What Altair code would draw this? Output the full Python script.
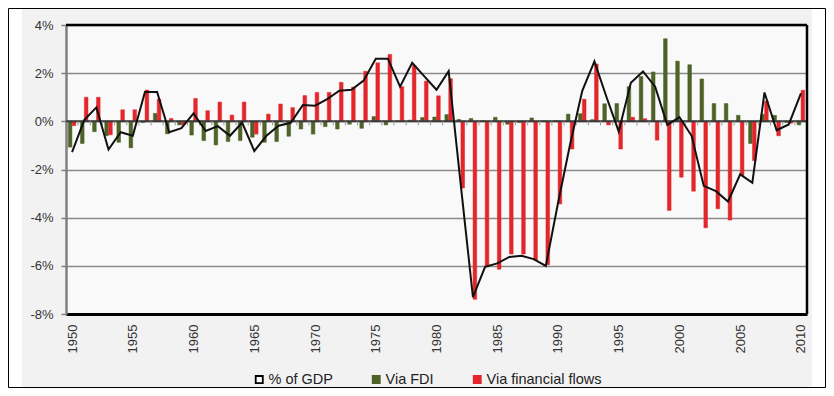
import altair as alt
import pandas as pd

years = list(range(1950, 2011))

pct_gdp = [-1.28, 0.05, 0.58, -1.17, -0.45, -0.6, 1.22, 1.22, -0.45, -0.28,
           0.33, -0.4, -0.2, -0.6, -0.05, -1.23, -0.6, -0.18, -0.06, 0.68,
           0.65, 0.92, 1.27, 1.31, 1.69, 2.6, 2.6, 1.44, 2.43, 1.87,
           1.31, 2.08, -2.65, -7.3, -6.04, -5.9, -5.63, -5.58, -5.72, -6.0,
           -3.4, -0.95, 1.27, 2.49, 1.0, -0.42, 1.6, 2.07, 1.44, -0.15,
           0.17, -0.6, -2.68, -2.9, -3.33, -2.2, -2.55, 1.2, -0.37, -0.13,
           1.16]

via_fdi = [-1.07, -0.92, -0.43, -0.6, -0.87, -1.1, -0.05, 0.33, -0.52, -0.15,
           -0.57, -0.8, -0.98, -0.84, -0.8, -0.66, -0.87, -0.84, -0.62, -0.32,
           -0.53, -0.22, -0.32, -0.12, -0.29, 0.2, -0.15, 0.02, 0.05, 0.16,
           0.18, 0.28, 0.08, 0.12, 0.02, 0.17, -0.12, -0.05, 0.14, 0.02,
           0.03, 0.3, 0.32, 0.07, 0.73, 0.74, 1.44, 1.86, 2.05, 3.43,
           2.5, 2.35, 1.76, 0.74, 0.74, 0.25, -0.92, 0.29, 0.25, -0.05,
           -0.15]

via_fin = [-0.18, 1.0, 1.0, -0.56, 0.48, 0.48, 1.3, 0.92, 0.12, -0.15,
           0.95, 0.44, 0.8, 0.26, 0.8, -0.53, 0.3, 0.72, 0.57, 1.07,
           1.2, 1.2, 1.62, 1.42, 2.08, 2.43, 2.78, 1.44, 2.32, 1.67,
           1.06, 1.77, -2.77, -7.39, -6.04, -6.14, -5.51, -5.51, -5.76, -5.96,
           -3.43, -1.15, 0.92, 2.38, -0.15, -1.15, 0.17, 0.11, -0.78, -3.7,
           -2.32, -2.9, -4.42, -3.63, -4.1, -2.25, -1.63, 0.84, -0.6, -0.08,
           1.29]

series_names = ["% of GDP", "Via FDI", "Via financial flows"]
y_ticks = [-8, -6, -4, -2, 0, 2, 4]
x_ticks = list(range(1950, 2011, 5))

GREEN = "#4f6228"
RED = "#e3262b"
FONT = "Liberation Sans"

df = pd.DataFrame({"year": years, "gdp": pct_gdp, "fdi": via_fdi, "fin": via_fin})
one = alt.Data(values=[{"k": 1}])

xscale = alt.Scale(domain=[1949.5, 2010.5], nice=False, zero=False)
yscale = alt.Scale(domain=[-8, 4], nice=False, zero=False)

xax = alt.Axis(values=x_ticks, format="d", labelAngle=-90, labelFontSize=13,
               labelColor="#333333", labelFont=FONT, labelPadding=10, tickSize=0,
               domainColor="#000000", domainWidth=3, grid=False, title=None,
               labelFlush=False, labelOverlap=False)
yax = alt.Axis(values=y_ticks, labelExpr="datum.value + '%'", labelFontSize=13,
               labelColor="#333333", labelFont=FONT, labelPadding=8, tickSize=5,
               tickColor="#7f7f7f", tickWidth=1.5, domainColor="#7f7f7f",
               domainWidth=2.5, grid=True, gridColor="#8a8a8a", gridWidth=1.3,
               title=None)

leg = alt.Legend(title=None, orient="none", legendX=186, legendY=347,
                 direction="horizontal", symbolType="square", symbolSize=50,
                 symbolStrokeWidth=1.8, labelFontSize=14.5, labelFont=FONT,
                 labelColor="#222222", columnPadding=36, labelOffset=2)

strip_left = alt.Chart(one).mark_rect(color="white").encode(
    x=alt.value(-58), x2=alt.value(-44), y=alt.value(-17), y2=alt.value(363))
strip_right = alt.Chart(one).mark_rect(color="white").encode(
    x=alt.value(746), x2=alt.value(760), y=alt.value(-17), y2=alt.value(363))
frame = alt.Chart(one).mark_rect(filled=False, color="black", strokeWidth=1).encode(
    x=alt.value(-57.5), x2=alt.value(759.5), y=alt.value(-16.5), y2=alt.value(362.5))

bars = alt.Chart(df).transform_fold(
    ["fdi", "fin"], as_=["key", "value"]
).transform_calculate(
    series="datum.key == 'fdi' ? 'Via FDI' : 'Via financial flows'",
    x0="datum.key == 'fdi' ? datum.year - 0.31 : datum.year + 0.01",
    x1="datum.key == 'fdi' ? datum.year - 0.01 : datum.year + 0.31",
).mark_bar(strokeWidth=0.5).encode(
    x=alt.X("x0:Q", scale=xscale, axis=xax),
    x2="x1:Q",
    y=alt.Y("value:Q", scale=yscale, axis=yax),
    y2=alt.datum(0),
    fill=alt.Fill("series:N", scale=alt.Scale(domain=series_names, range=["#ffffff", GREEN, RED]), legend=leg),
    stroke=alt.Stroke("series:N", scale=alt.Scale(domain=series_names, range=["#000000", GREEN, RED]), legend=leg),
)

zero_line = alt.Chart(one).mark_rule(color="#3a3a3a", strokeWidth=2).encode(
    y=alt.YDatum(0, scale=yscale, axis=yax))

zero_ticks = alt.Chart(df).transform_filter("datum.year < 2010").transform_calculate(
    xb="datum.year + 0.5"
).mark_rule(color="#9a9a9a", strokeWidth=1).encode(
    x=alt.X("xb:Q", scale=xscale, axis=xax),
    y=alt.YDatum(0, scale=yscale, axis=yax),
    y2=alt.datum(-0.17),
)

top_border = alt.Chart(one).mark_rule(color="#000000", strokeWidth=2.5).encode(
    y=alt.YDatum(4, scale=yscale, axis=yax))
right_border = alt.Chart(one).mark_rule(color="#000000", strokeWidth=2.5).encode(
    x=alt.XDatum(2010.5, scale=xscale, axis=xax))

line = alt.Chart(df).mark_line(color="#111111", strokeWidth=2).encode(
    x=alt.X("year:Q", scale=xscale, axis=xax),
    y=alt.Y("gdp:Q", scale=yscale, axis=yax),
)

chart = alt.layer(
    strip_left, strip_right, frame, bars, zero_line, zero_ticks,
    top_border, right_border, line
).properties(
    width=741, height=289,
    padding={"left": 58, "top": 17, "right": 19, "bottom": 74},
    autosize=alt.AutoSizeParams(type="none"),
    background="#f2f2f2",
).configure_view(stroke=None, fill="#f9f9f9")

chart.save("out.html", embed_options={"renderer": "svg", "actions": False})
